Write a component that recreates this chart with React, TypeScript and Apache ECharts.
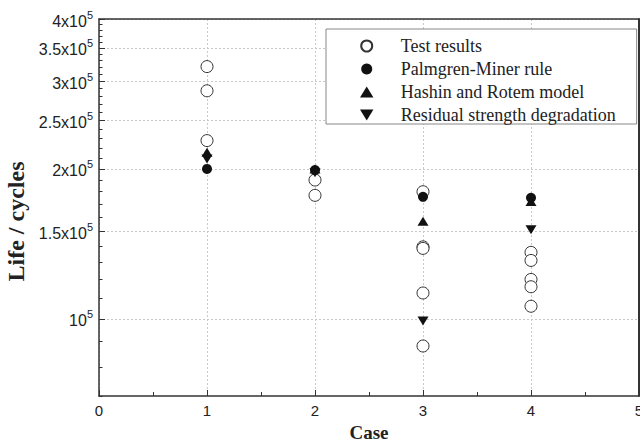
import React, { useEffect, useRef } from "react";
import * as echarts from "echarts";

const caseLabels = ["0", "1", "2", "3", "4", "5"];
const testResults: [number, number][] = [
  [1, 321000], [1, 287000], [1, 228000],
  [2, 190000], [2, 177000],
  [3, 180000], [3, 139500], [3, 138500], [3, 112700], [3, 88200],
  [4, 136000], [4, 131000], [4, 120000], [4, 116000], [4, 106000],
];
const palmgrenMiner: [number, number][] = [[1, 200000], [2, 199000], [3, 175800], [4, 175000]];
const hashinRotem: [number, number][] = [[1, 216000], [2, 200000], [3, 157000], [4, 172000]];
const residualStrength: [number, number][] = [[1, 209500], [2, 196500], [3, 99000], [4, 151000]];
const majorY = [100000, 150000, 200000, 250000, 300000, 350000, 400000];
const minorY = [70000, 80000, 90000, 110000, 120000, 130000, 140000, 160000, 170000, 180000, 190000,
  210000, 220000, 230000, 240000, 260000, 270000, 280000, 290000, 310000, 320000, 330000, 340000,
  360000, 370000, 380000, 390000];
const seriesNames = ["Test results", "Palmgren-Miner rule", "Hashin and Rotem model", "Residual strength degradation"];

const TRI_UP = "path://M0,9 L5.5,0 L11,9 Z";
const TRI_DOWN = "path://M0,0 L11,0 L5.5,9 Z";

export default function App() {
  const ref = useRef<HTMLDivElement>(null);
  useEffect(() => {
    if (!ref.current) return;
    const chart = echarts.init(ref.current, null, { renderer: "svg" });
    const axisColor = "#333";
    const gridLine = { show: true, lineStyle: { color: "#c8c8c8", type: [2, 2] as any, width: 1 } };
    const yMin = 70000, yMax = 400000;
    chart.setOption({
      animation: false,
      backgroundColor: "#fff",
      grid: { left: 99, right: 1, top: 19, bottom: 48, containLabel: false, outerBoundsMode: "none" } as any,
      legend: {
        orient: "vertical",
        left: 326,
        top: 29,
        data: seriesNames,
        itemWidth: 58,
        itemHeight: 11,
        itemGap: 5,
        padding: [8, 21, 0, 34],
        borderColor: "#888",
        borderWidth: 1,
        backgroundColor: "#fff",
        textStyle: { fontFamily: "Liberation Serif", fontSize: 18, color: "#222", lineHeight: 14 },
      },
      xAxis: [
        {
          type: "value",
          min: 0,
          max: 5,
          interval: 1,
          name: "Case",
          nameLocation: "middle",
          nameGap: 27,
          nameTextStyle: { fontFamily: "Liberation Serif", fontWeight: "bold", fontSize: 19, color: "#222" },
          axisLine: { show: true, lineStyle: { color: axisColor, width: 1.5 } },
          axisTick: { show: true, inside: true, length: 6, lineStyle: { color: axisColor } },
          minorTick: { show: true, splitNumber: 2, length: 4, lineStyle: { color: axisColor } },
          axisLabel: {
            fontFamily: "Liberation Sans", fontSize: 15, color: "#222", margin: 7,
            formatter: (v: number) => caseLabels[Math.round(v)] ?? String(v),
          },
          splitLine: gridLine,
        },
        {
          type: "value",
          position: "top",
          min: 0,
          max: 5,
          axisLine: { show: true, lineStyle: { color: axisColor, width: 1.5 } },
          axisTick: { show: false },
          axisLabel: { show: false },
          splitLine: { show: false },
        },
      ],
      yAxis: [
        {
          type: "log",
          logBase: 10,
          min: yMin,
          max: yMax,
          name: "Life / cycles",
          nameLocation: "middle",
          nameGap: 69,
          nameTextStyle: {
            fontFamily: "Liberation Serif", fontWeight: "bold", fontSize: 24, color: "#222",
            padding: [0, 28, 0, 0],
          },
          axisLine: { show: true, lineStyle: { color: axisColor, width: 1.5 } },
          axisTick: { show: true, inside: true, length: 6, customValues: majorY, lineStyle: { color: axisColor } },
          axisLabel: {
            customValues: majorY,
            margin: 6,
            formatter: (v: number) => {
              const m = Math.round((v / 100000) * 10) / 10;
              return m === 1 ? "{b|10}{s|5}" : `{b|${m}x10}{s|5}`;
            },
            rich: {
              b: { fontFamily: "Liberation Sans", fontSize: 16, color: "#222", verticalAlign: "bottom", lineHeight: 20 },
              s: { fontFamily: "Liberation Sans", fontSize: 11, color: "#222", verticalAlign: "top", lineHeight: 20 },
            },
          },
          splitLine: gridLine,
        },
        {
          type: "log",
          logBase: 10,
          min: yMin,
          max: yMax,
          position: "left",
          axisLine: { show: false },
          axisTick: { show: true, inside: true, length: 3.5, customValues: minorY, lineStyle: { color: axisColor } },
          axisLabel: { show: false },
          splitLine: { show: false },
        },
        {
          type: "log",
          logBase: 10,
          min: yMin,
          max: yMax,
          position: "right",
          axisLine: { show: true, lineStyle: { color: axisColor, width: 2 } },
          axisTick: { show: false },
          axisLabel: { show: false },
          splitLine: { show: false },
        },
      ],
      series: [
        {
          name: seriesNames[0],
          type: "scatter",
          data: testResults,
          symbol: "circle",
          symbolSize: 12,
          itemStyle: { color: "#fff", borderColor: "#333", borderWidth: 1, opacity: 1 },
        },
        {
          name: seriesNames[1],
          type: "scatter",
          data: palmgrenMiner,
          symbol: "circle",
          symbolSize: 10,
          itemStyle: { color: "#111", opacity: 1 },
        },
        {
          name: seriesNames[2],
          type: "scatter",
          data: hashinRotem,
          symbol: TRI_UP,
          symbolSize: [11, 9],
          itemStyle: { color: "#111", opacity: 1 },
        },
        {
          name: seriesNames[3],
          type: "scatter",
          data: residualStrength,
          symbol: TRI_DOWN,
          symbolSize: [11, 9],
          itemStyle: { color: "#111", opacity: 1 },
        },
      ],
    });
    return () => chart.dispose();
  }, []);
  return <div ref={ref} style={{ position: "fixed", left: 0, top: 0, width: 640, height: 444 }} />;
}
